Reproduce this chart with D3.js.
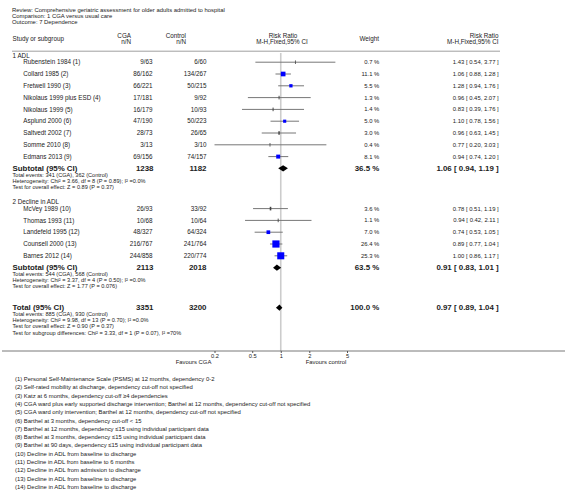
<!DOCTYPE html>
<html><head><meta charset="utf-8">
<script src="https://cdn.jsdelivr.net/npm/d3@7"></script>
<style>body{margin:0;background:#fff}svg{display:block}text{font-family:"Liberation Sans",Arial,sans-serif;fill:#222}</style>
</head><body><div id="chart"></div>
<script>
const titleLines = ["Review:   Comprehensive geriatric assessment for older adults admitted to hospital","Comparison:   1 CGA versus usual care","Outcome:   7 Dependence"];
const groupLabels = ["1 ADL","2 Decline in ADL"];
const studyNames = ["Rubenstein 1984 (1)","Collard 1985 (2)","Fretwell 1990 (3)","Nikolaus 1999 plus ESD (4)","Nikolaus 1999 (5)","Asplund 2000 (6)","Saltvedt 2002 (7)","Somme 2010 (8)","Edmans 2013 (9)","McVey 1989 (10)","Thomas 1993 (11)","Landefeld 1995 (12)","Counsell 2000 (13)","Barnes 2012 (14)"];
const studyGroup = [0,0,0,0,0,0,0,0,0,1,1,1,1,1];
const cgaEvents = [9,86,66,17,16,47,28,3,69,26,10,48,216,244];
const cgaTotal = [63,162,221,181,179,190,73,13,156,93,68,327,767,858];
const ctlEvents = [6,134,50,9,10,50,26,3,74,33,10,64,241,220];
const ctlTotal = [60,267,215,92,93,223,65,10,157,92,64,324,764,774];
const rrEst = [1.43,1.06,1.28,0.96,0.83,1.10,0.96,0.77,0.94,0.78,0.94,0.74,0.89,1.00];
const rrLow = [0.54,0.88,0.94,0.45,0.39,0.78,0.63,0.20,0.74,0.51,0.42,0.53,0.77,0.86];
const rrHigh = [3.77,1.28,1.76,2.07,1.76,1.56,1.45,3.03,1.20,1.19,2.11,1.05,1.04,1.17];
const weights = [0.7,11.1,5.5,1.3,1.4,5.0,3.0,0.4,8.1,3.6,1.1,7.0,26.4,25.3];
const subtotalLabels = ["Subtotal (95% CI)","Subtotal (95% CI)","Total (95% CI)"];
const subCgaTotal = [1238,2113,3351];
const subCtlTotal = [1182,2018,3200];
const subEst = [1.06,0.91,0.97];
const subLow = [0.94,0.83,0.89];
const subHigh = [1.19,1.01,1.04];
const subWeight = [36.5,63.5,100.0];
const subInfo = [
 ["Total events: 341 (CGA), 362 (Control)","Heterogeneity: Chi\u00b2 = 3.66, df = 8 (P = 0.89); I\u00b2 =0.0%","Test for overall effect: Z = 0.89 (P = 0.37)"],
 ["Total events: 544 (CGA), 568 (Control)","Heterogeneity: Chi\u00b2 = 3.37, df = 4 (P = 0.50); I\u00b2 =0.0%","Test for overall effect: Z = 1.77 (P = 0.076)"],
 ["Total events: 885 (CGA), 930 (Control)","Heterogeneity: Chi\u00b2 = 9.98, df = 13 (P = 0.70); I\u00b2 =0.0%","Test for overall effect: Z = 0.90 (P = 0.37)","Test for subgroup differences: Chi\u00b2 = 3.33, df = 1 (P = 0.07), I\u00b2 =70%"]
];
const axisTicks = [0.2,0.5,1,2,5];
const favoursLabels = ["Favours CGA","Favours control"];
const footnotes = ["(1) Personal Self-Maintenance Scale (PSMS) at 12 months, dependency 0-2","(2) Self-rated mobility at discharge, dependency cut-off not specified","(3) Katz at 6 months, dependency cut-off \u22654 dependencies","(4) CGA ward plus early supported discharge intervention; Barthel at 12 months, dependency cut-off not specified","(5) CGA ward only intervention; Barthel at 12 months, dependency cut-off not specified","(6) Barthel at 3 months, dependency cut-off < 15","(7) Barthel at 12 months, dependency \u226415 using individual participant data","(8) Barthel at 3 months, dependency \u226415 using individual participant data","(9) Barthel at 90 days, dependency \u226415 using individual participant data","(10) Decline in ADL from baseline to discharge","(11) Decline in ADL from baseline to 6 months","(12) Decline in ADL from admission to discharge","(13) Decline in ADL from baseline to discharge","(14) Decline in ADL from baseline to discharge"];

const W=566,H=492;
const svg=d3.select("#chart").append("svg").attr("width",W).attr("height",H);
const x=d3.scaleLog().domain([0.2,5]).range([214.5,347]);
const fmt=d3.format(".2f");
const FS=6.3, FI=5.6, FB=7.9, FN=5.9;

function txt(s,xx,yy,opt={}){
  return svg.append("text").attr("x",xx).attr("y",yy).attr("dy","0.35em")
   .attr("font-size",opt.size||FS).attr("font-weight",opt.bold?"bold":null)
   .attr("text-anchor",opt.anchor||"start").text(s);
}
// title
const titleY=[10.2,16.2,22.2];
titleLines.forEach((t,i)=>txt(t,12,titleY[i],{size:5.9}));
// headers
txt("Study or subgroup",12.5,38.5);
txt("CGA",131,35.5,{anchor:"end"});txt("n/N",131,41.8,{anchor:"end"});
txt("Control",186,35.5,{anchor:"end"});txt("n/N",186,41.8,{anchor:"end"});
txt("Risk Ratio",283,35.5,{anchor:"middle"});txt("M-H,Fixed,95% CI",282,41.8,{anchor:"middle"});
txt("Weight",379,38.5,{anchor:"end"});
txt("Risk Ratio",498.5,35.5,{anchor:"end"});txt("M-H,Fixed,95% CI",498.5,41.8,{anchor:"end"});
svg.append("line").attr("x1",12).attr("x2",500).attr("y1",51.2).attr("y2",51.2).attr("stroke","#888").attr("stroke-width",0.8);

const axisY=351;
svg.append("line").attr("x1",x(1)).attr("x2",x(1)).attr("y1",53).attr("y2",axisY).attr("stroke","#ccc").attr("stroke-width",1.6);

const rowStep=11.8;
const layout={groupLabelY:[55.4,201.6],firstStudyY:[62.2,208.6],subY:[168.3,267.7,307.7]};
const infoStep=6.2;

function drawStudy(i,yy){
  txt(studyNames[i],23.3,yy);
  txt(cgaEvents[i]+"/"+cgaTotal[i],152.5,yy,{anchor:"end"});
  txt(ctlEvents[i]+"/"+ctlTotal[i],206.5,yy,{anchor:"end"});
  txt(weights[i].toFixed(1)+" %",379.3,yy,{anchor:"end",size:5.9});
  txt(fmt(rrEst[i])+" [ "+fmt(rrLow[i])+", "+fmt(rrHigh[i])+" ]",498.7,yy,{anchor:"end",size:5.9});
  svg.append("line").attr("x1",x(rrLow[i])).attr("x2",x(rrHigh[i])).attr("y1",yy).attr("y2",yy).attr("stroke","#777").attr("stroke-width",1);
  const s=1.4*Math.sqrt(weights[i]);
  if(s<3){
    svg.append("line").attr("x1",x(rrEst[i])).attr("x2",x(rrEst[i])).attr("y1",yy-1.8).attr("y2",yy+1.8).attr("stroke","#444").attr("stroke-width",Math.max(0.8,s*0.6));
  } else {
    svg.append("rect").attr("x",x(rrEst[i])-s/2).attr("y",yy-s/2).attr("width",s).attr("height",s).attr("fill","#0000ff");
  }
}
function drawSub(k,yy){
  txt(subtotalLabels[k],12.5,yy,{bold:true,size:FB});
  txt(d3.format("d")(subCgaTotal[k]),153.5,yy,{anchor:"end",bold:true,size:FB});
  txt(d3.format("d")(subCtlTotal[k]),206.5,yy,{anchor:"end",bold:true,size:FB});
  txt(subWeight[k].toFixed(1)+" %",379.3,yy,{anchor:"end",bold:true,size:FB});
  txt(fmt(subEst[k])+" [ "+fmt(subLow[k])+", "+fmt(subHigh[k])+" ]",498.7,yy,{anchor:"end",bold:true,size:FB});
  const h=3.1;
  svg.append("path").attr("d",`M${x(subLow[k])},${yy}L${x(subEst[k])},${yy-h}L${x(subHigh[k])},${yy}L${x(subEst[k])},${yy+h}Z`).attr("fill","#000");
  subInfo[k].forEach((t,j)=>txt(t,12.5,yy+6.3+j*infoStep,{size:FI}));
}
[0,1].forEach(g=>{
  txt(groupLabels[g],12.5,layout.groupLabelY[g]);
  const idx=studyNames.map((d,i)=>i).filter(i=>studyGroup[i]===g);
  idx.forEach((i,j)=>drawStudy(i,layout.firstStudyY[g]+j*rowStep));
  drawSub(g,layout.subY[g]);
});
drawSub(2,layout.subY[2]);

// axis
svg.append("line").attr("x1",2).attr("x2",565).attr("y1",axisY).attr("y2",axisY).attr("stroke","#555").attr("stroke-width",0.8);
const ax=d3.axisBottom(x).tickValues(axisTicks).tickFormat(d=>String(d)).tickSize(2).tickPadding(0.5);
const axg=svg.append("g").attr("transform",`translate(0,${axisY})`).call(ax);
axg.select(".domain").remove();
axg.selectAll(".tick line").attr("stroke","#555");
axg.selectAll(".tick text").attr("font-size",5.7).attr("fill","#222").attr("font-family","Liberation Sans, Arial, sans-serif");
txt(favoursLabels[0],193.5,361.5,{anchor:"middle",size:5.9});
txt(favoursLabels[1],326,361.5,{anchor:"middle",size:5.9});

footnotes.forEach((t,i)=>txt(t,15,379+i*8.3,{size:FN}));
</script></body></html>
